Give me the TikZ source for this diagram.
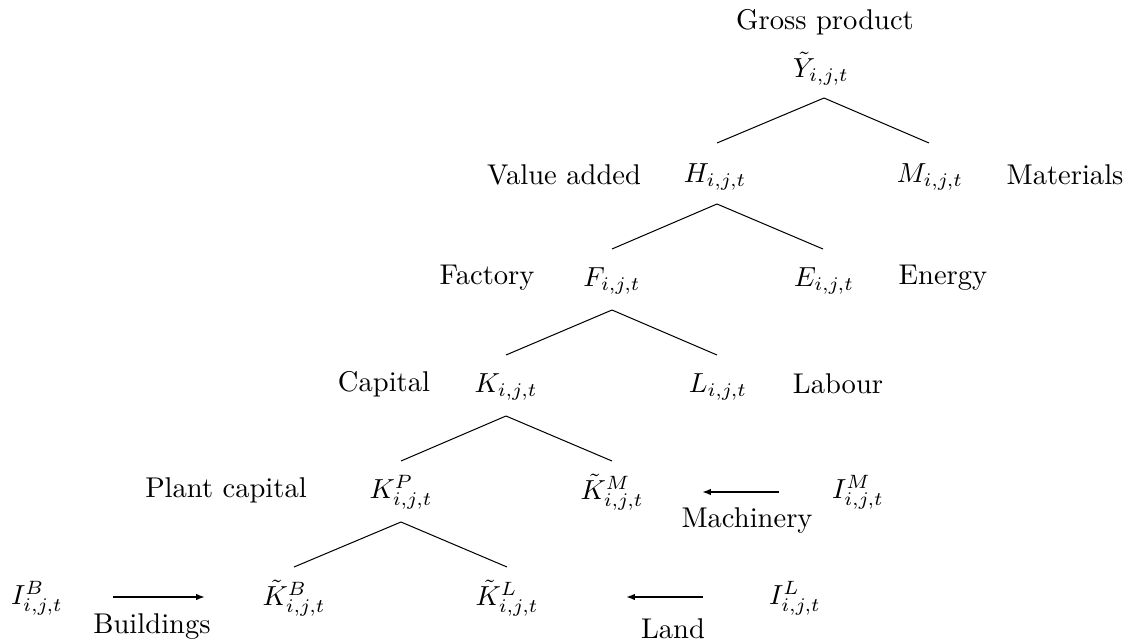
\documentclass[tikz,border=0pt]{standalone}
\usetikzlibrary{arrows.meta,calc}
\begin{document}
\begin{tikzpicture}[x=0.3922pt,y=-0.3922pt,
 lbl/.style={inner sep=0pt,anchor=center,scale=1.12},
 var/.style={inner sep=0pt,anchor=center,scale=1.08},
 branch/.style={line width=0.4pt},
 flow/.style={line width=1pt,-{Latex[length=3.5pt,width=2.6pt]}}]
\useasboundingbox (0,0) rectangle (1138,643);
% labels and variables
\node[lbl] (gp) at (825,22) {Gross product};
\node[var] (Y) at (821,69) {$\tilde{Y}_{i,j,t}$};

\node[lbl] (va) at (564,175) {Value added};
\node[var] (H) at (715,177) {$H_{i,j,t}$};
\node[var] (M) at (930,177) {$M_{i,j,t}$};
\node[lbl] (mat) at (1065,175) {Materials};

\node[lbl] (fac) at (487,278) {Factory};
\node[var] (F) at (612,281) {$F_{i,j,t}$};
\node[var] (E) at (824,281) {$E_{i,j,t}$};
\node[lbl] (en) at (943,278) {Energy};

\node[lbl] (cap) at (384,384) {Capital};
\node[var] (K) at (506,387) {$K_{i,j,t}$};
\node[var] (L) at (718,387) {$L_{i,j,t}$};
\node[lbl] (lab) at (838,384) {Labour};

\node[lbl] (pc) at (226,490) {Plant capital};
\node[var] (KP) at (401,492) {$K^P_{i,j,t}$};
\node[var] (KM) at (612,492) {$\tilde{K}^M_{i,j,t}$};
\node[var] (IM) at (858,492) {$I^M_{i,j,t}$};
\node[lbl] (mach) at (747,521) {Machinery};

\node[var] (IB) at (37,598) {$I^B_{i,j,t}$};
\node[lbl] (bld) at (152,627) {Buildings};
\node[var] (KB) at (294,598) {$\tilde{K}^B_{i,j,t}$};
\node[var] (KL) at (507,598) {$\tilde{K}^L_{i,j,t}$};
\node[lbl] (land) at (673,629) {Land};
\node[var] (IL) at (795,598) {$I^L_{i,j,t}$};

% tree branches
\draw[branch] ($(Y)+(3,29)$) -- ($(H)+(2,-34)$);
\draw[branch] ($(Y)+(3,29)$) -- ($(M)+(-1,-34)$);
\draw[branch] ($(H)+(2,27)$) -- ($(F)+(0,-32)$);
\draw[branch] ($(H)+(2,27)$) -- ($(E)+(-1,-32)$);
\draw[branch] ($(F)+(0,29)$) -- ($(K)+(0,-32)$);
\draw[branch] ($(F)+(0,29)$) -- ($(L)+(-1,-32)$);
\draw[branch] ($(K)+(0,29)$) -- ($(KP)+(0,-31)$);
\draw[branch] ($(K)+(0,29)$) -- ($(KM)+(0,-31)$);
\draw[branch] ($(KP)+(0,30)$) -- ($(KB)+(0,-31)$);
\draw[branch] ($(KP)+(0,30)$) -- ($(KL)+(0,-31)$);

% investment flows
\draw[flow] ($(IB)+(76,-1)$) -- ($(KB)+(-89,-1)$);
\draw[flow] ($(IM)+(-79,0)$) -- ($(KM)+(90,0)$);
\draw[flow] ($(IL)+(-92,-1)$) -- ($(KL)+(119,-1)$);
\end{tikzpicture}
\end{document}
